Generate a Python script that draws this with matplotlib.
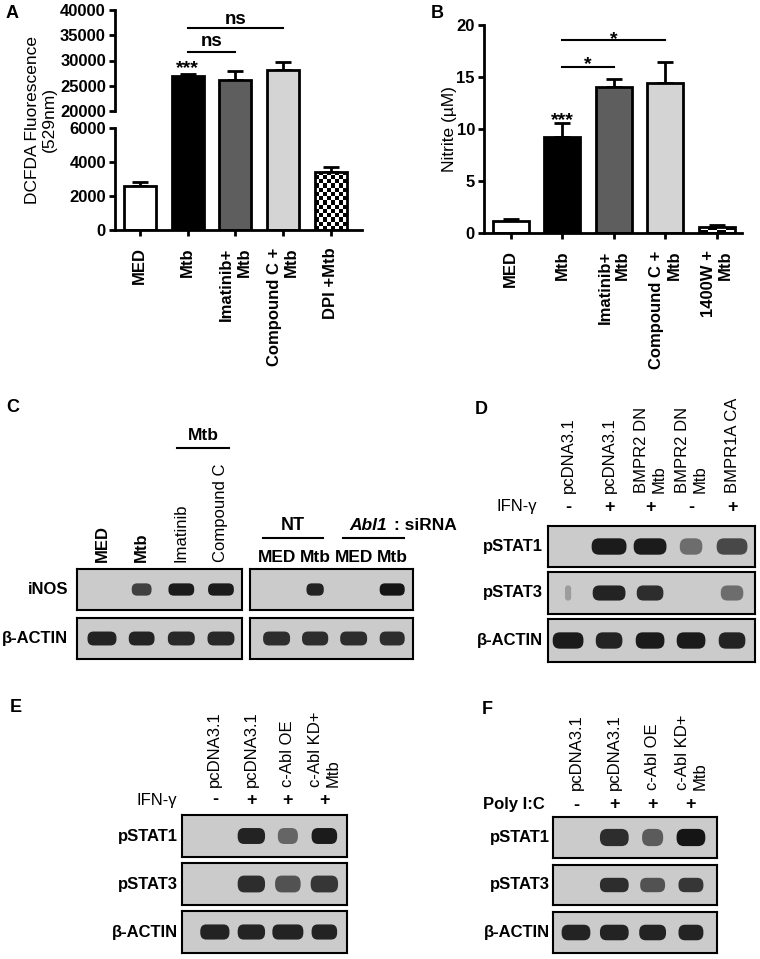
import numpy as np
import matplotlib
matplotlib.use('Agg')
import matplotlib.pyplot as plt
import matplotlib.transforms as mtransforms
from matplotlib.patches import FancyBboxPatch

plt.rcParams['font.family'] = ['Liberation Sans', 'DejaVu Sans']
plt.rcParams['font.weight'] = 'bold'

# ---- data: bar panels ----
a_labels = ['MED', 'Mtb', 'Imatinib+\nMtb', 'Compound C +\nMtb', 'DPI +Mtb']
a_vals = [2600, 27000, 26200, 28200, 3390]
a_err = [220, 330, 1780, 1440, 310]
a_sig = [(1, 2, 31700, 32900, 'ns'), (1, 3, 36400, 37200, 'ns')]
a_star = (1, 27500, '***')

b_labels = ['MED', 'Mtb', 'Imatinib+\nMtb', 'Compound C +\nMtb', '1400W +\nMtb']
b_vals = [1.12, 9.2, 14.0, 14.46, 0.54]
b_err = [0.26, 1.36, 0.8, 1.94, 0.26]
b_sig = [(1, 2, 16.0, 15.8, '*'), (1, 3, 18.6, 18.2, '*')]
b_star = (1, 10.4, '***')

bar_colors = ['white', 'black', '#5e5e5e', '#d4d4d4', 'none']

# ---- data: blots (band darkness, band width in lanes) ----
c_left_lanes = ['MED', 'Mtb', 'Imatinib', 'Compound C']
c_left_inos = [0.0, 0.75, 0.95, 0.95]
c_left_inos_w = [0.0, 0.5, 0.65, 0.65]
c_left_actin = [0.9, 0.9, 0.88, 0.88]
c_left_actin_w = [0.73, 0.65, 0.68, 0.68]
c_right_lanes = ['MED', 'Mtb', 'MED', 'Mtb']
c_right_inos = [0.0, 0.9, 0.0, 0.98]
c_right_inos_w = [0.0, 0.45, 0.0, 0.65]
c_right_actin = [0.85, 0.85, 0.85, 0.85]
c_right_actin_w = [0.7, 0.68, 0.7, 0.65]

d_lanes = ['pcDNA3.1', 'pcDNA3.1', 'BMPR2 DN\nMtb', 'BMPR2 DN\nMtb', 'BMPR1A CA']
d_ifn = ['-', '+', '+', '-', '+']
d_pstat1 = [0.0, 0.95, 0.95, 0.5, 0.7]
d_pstat1_w = [0.0, 0.85, 0.8, 0.55, 0.75]
d_pstat3 = [0.25, 0.9, 0.85, 0.0, 0.5]
d_pstat3_w = [0.15, 0.8, 0.65, 0.0, 0.55]
d_actin = [0.95, 0.9, 0.95, 0.95, 0.9]
d_actin_w = [0.75, 0.65, 0.7, 0.7, 0.65]

e_lanes = ['pcDNA3.1', 'pcDNA3.1', 'c-Abl OE', 'c-Abl KD+\nMtb']
e_ifn = ['-', '+', '+', '+']
e_pstat1 = [0.0, 0.9, 0.55, 0.95]
e_pstat1_w = [0.0, 0.75, 0.55, 0.7]
e_pstat3 = [0.0, 0.85, 0.65, 0.8]
e_pstat3_w = [0.0, 0.75, 0.7, 0.75]
e_actin = [0.9, 0.9, 0.9, 0.9]
e_actin_w = [0.8, 0.75, 0.85, 0.7]

f_lanes = ['pcDNA3.1', 'pcDNA3.1', 'c-Abl OE', 'c-Abl KD+\nMtb']
f_poly = ['-', '+', '+', '+']
f_pstat1 = [0.0, 0.85, 0.6, 0.98]
f_pstat1_w = [0.0, 0.75, 0.55, 0.75]
f_pstat3 = [0.0, 0.85, 0.65, 0.8]
f_pstat3_w = [0.0, 0.75, 0.65, 0.65]
f_actin = [0.9, 0.9, 0.9, 0.9]
f_actin_w = [0.75, 0.75, 0.7, 0.65]

W, H = 760, 959
fig = plt.figure(figsize=(W / 100, H / 100), dpi=100)


def box(x0, y0, x1, y1):
    return [x0 / W, 1 - y1 / H, (x1 - x0) / W, (y1 - y0) / H]


def letter(x, y, s):
    fig.text(x / W, 1 - y / H, s, fontsize=13, ha='left', va='center')


def checker(ax, bar, nx, step):
    x0, w, h = bar.get_x(), bar.get_width(), bar.get_height()
    xs = np.linspace(x0, x0 + w, nx + 1)
    ys = np.append(np.arange(0, h, step), h)
    c = np.add.outer(np.arange(len(ys) - 1), np.arange(nx)) % 2
    ax.pcolormesh(xs, ys, c, cmap='gray', vmin=0, vmax=1, zorder=1.5)


def bar_panel(ax, labels, vals, err, width):
    x = np.arange(len(vals))
    bars = ax.bar(x, vals, width=width, color=bar_colors, edgecolor='black',
                  linewidth=2, zorder=2)
    ax.errorbar(x, vals, yerr=[np.zeros(len(vals)), err], fmt='none',
                ecolor='black', elinewidth=2, capsize=5.5, capthick=2, zorder=1)
    ax.set_xticks(x, labels, rotation=90, multialignment='right', fontsize=11.5)
    ax.tick_params(width=2, length=4.5, labelsize=12)
    ax.tick_params(axis='x', pad=8)
    ax.tick_params(axis='y', pad=2)
    for s in ['top', 'right']:
        ax.spines[s].set_visible(False)
    for s in ['left', 'bottom']:
        ax.spines[s].set_linewidth(2)
    return bars


def sig(ax, items, star):
    for i0, i1, yl, yt, s in items:
        ax.plot([i0, i1], [yl, yl], color='black', lw=1.5)
        ax.text((i0 + i1) / 2, yt, s, ha='center', va='baseline', fontsize=14 if s == '*' else 13.5)
    ax.text(star[0], star[1], star[2], ha='center', va='baseline', fontsize=14)


# ---- A: broken axis ----
def fwd(v):
    v = np.asarray(v, float)
    return np.where(v <= 6000, v / 6000 * 102,
                    np.where(v <= 20000, 102 + (v - 6000) / 14000 * 17,
                             119 + (v - 20000) / 20000 * 101))


def inv(p):
    p = np.asarray(p, float)
    return np.where(p <= 102, p / 102 * 6000,
                    np.where(p <= 119, 6000 + (p - 102) / 17 * 14000,
                             20000 + (p - 119) / 101 * 20000))


axA = fig.add_axes(box(115, 10, 362, 230))
axA.set_yscale('function', functions=(fwd, inv))
barsA = bar_panel(axA, a_labels, a_vals, a_err, 0.67)
checker(axA, barsA[4], 8, 250)
axA.set_xlim(-0.52, 4.65)
axA.set_ylim(0, 40000)
yt = [0, 2000, 4000, 6000, 20000, 25000, 30000, 35000, 40000]
axA.set_yticks(yt, [str(v) for v in yt])
axA.spines['left'].set_visible(False)
tr = mtransforms.blended_transform_factory(axA.transAxes, axA.transData)
axA.plot([0, 0], [0, 6000], transform=tr, color='black', lw=2, clip_on=False)
axA.plot([0, 0], [20000, 40000], transform=tr, color='black', lw=2, clip_on=False)
axA.set_ylabel('DCFDA Fluorescence\n(529nm)', fontsize=12.5, fontweight='normal')
axA.yaxis.set_label_coords(-0.235, 0.5)
sig(axA, a_sig, a_star)
letter(6, 14, 'A')

# ---- B ----
axB = fig.add_axes(box(484, 25, 742, 233))
barsB = bar_panel(axB, b_labels, b_vals, b_err, 0.7)
checker(axB, barsB[4], 4, 0.27)
axB.set_xlim(-0.52, 4.49)
axB.set_ylim(0, 20)
axB.set_yticks([0, 5, 10, 15, 20])
axB.set_ylabel('Nitrite (µM)', fontsize=12.5, fontweight='normal')
axB.yaxis.set_label_coords(-0.105, 0.5)
sig(axB, b_sig, b_star)
letter(431, 14, 'B')


# ---- blots ----
def blot_row(rect, xlim, vals, widths, label=None, label_off=5, band_h=0.38):
    ax = fig.add_axes(box(*rect))
    ax.set_xlim(*xlim)
    ax.set_ylim(0, 1)
    ax.set_facecolor('#cbcbcb')
    ax.set_xticks([])
    ax.set_yticks([])
    for s in ax.spines.values():
        s.set_linewidth(1.5)
    for i, (v, w) in enumerate(zip(vals, widths)):
        if v <= 0:
            continue
        r = min(w, band_h) / 2 * 0.9
        ax.add_patch(FancyBboxPatch((i - w / 2, 0.5 - band_h / 2), w, band_h,
                                    boxstyle=f'round,pad=0,rounding_size={r}',
                                    fc='#111111', ec='none', alpha=v))
    if label:
        ax.annotate(label, xy=(0, 0.5), xycoords='axes fraction',
                    xytext=(-label_off * 0.72, 0), textcoords='offset points',
                    ha='right', va='center', fontsize=12)
    return ax


def headers(ax, labels, off_px, weights=None, size=12):
    for i, lab in enumerate(labels):
        wt = weights[i] if weights else 'normal'
        ax.annotate(lab, xy=(i, 1), xycoords=('data', 'axes fraction'),
                    xytext=(0, off_px * 0.72), textcoords='offset points',
                    rotation=90, ha='center', va='bottom', multialignment='left',
                    fontsize=size, fontweight=wt)


def signs(ax, name, signs_list, off_px, name_x, weight):
    for i, s in enumerate(signs_list):
        ax.annotate(s, xy=(i, 1), xycoords=('data', 'axes fraction'),
                    xytext=(0, off_px * 0.72), textcoords='offset points',
                    ha='center', va='center', fontsize=13)
    ax.annotate(name, xy=(name_x, 1), xycoords=('data', 'axes fraction'),
                xytext=(0, off_px * 0.72), textcoords='offset points',
                ha='right', va='center', fontsize=12, fontweight=weight)


# C
letter(6, 408, 'C')
cl = (-0.63, 3.53)
cl1 = blot_row((77, 569, 242, 610), cl, c_left_inos, c_left_inos_w, 'iNOS', 9, 0.3)
blot_row((77, 618, 242, 659), cl, c_left_actin, c_left_actin_w, 'β-ACTIN', 9, 0.34)
headers(cl1, c_left_lanes, 7, ['bold', 'bold', 'normal', 'normal'])
trc = mtransforms.blended_transform_factory(cl1.transData, cl1.transAxes)
cl1.plot([1.89, 3.2], [3.95, 3.95], transform=trc, color='black', lw=1.5, clip_on=False)
cl1.text(2.55, 4.25, 'Mtb', transform=trc, ha='center', va='center', fontsize=12.5)

cr = (-0.69, 3.54)
cr1 = blot_row((250, 569, 413, 610), cr, c_right_inos, c_right_inos_w, band_h=0.3)
blot_row((250, 618, 413, 659), cr, c_right_actin, c_right_actin_w, band_h=0.34)
trr = mtransforms.blended_transform_factory(cr1.transData, cr1.transAxes)
for i, lab in enumerate(c_right_lanes):
    cr1.text(i, 1.29, lab, transform=trr, ha='center', va='center', fontsize=12.5)
cr1.plot([-0.36, 1.2], [1.76, 1.76], transform=trr, color='black', lw=1.5, clip_on=False)
cr1.plot([1.72, 3.31], [1.76, 1.76], transform=trr, color='black', lw=1.5, clip_on=False)
cr1.text(0.42, 2.07, 'NT', transform=trr, ha='center', va='center', fontsize=13)
cr1.text(2.87, 2.07, 'Abl1', transform=trr, ha='right', va='center', fontsize=12.5, style='italic')
cr1.text(3.05, 2.07, ': siRNA', transform=trr, ha='left', va='center', fontsize=12.5)

# D
letter(475, 410, 'D')
dl = (-0.49, 4.56)
d1 = blot_row((548, 526, 755, 567), dl, d_pstat1, d_pstat1_w, 'pSTAT1', 5, 0.4)
blot_row((548, 572, 755, 614), dl, d_pstat3, d_pstat3_w, 'pSTAT3', 5, 0.36)
blot_row((548, 619, 755, 662), dl, d_actin, d_actin_w, 'β-ACTIN', 5, 0.38)
headers(d1, d_lanes, 33)
signs(d1, 'IFN-γ', d_ifn, 19, -0.76, 'normal')

# E
letter(10, 708, 'E')
el = (-0.9, 3.62)
e1 = blot_row((182, 815, 347, 857), el, e_pstat1, e_pstat1_w, 'pSTAT1', 4, 0.38)
blot_row((182, 863, 347, 905), el, e_pstat3, e_pstat3_w, 'pSTAT3', 4, 0.4)
blot_row((182, 911, 347, 953), el, e_actin, e_actin_w, 'β-ACTIN', 4, 0.36)
headers(e1, e_lanes, 28)
signs(e1, 'IFN-γ', e_ifn, 15, -1.04, 'normal')

# F
letter(482, 710, 'F')
fl = (-0.6, 3.68)
f1 = blot_row((553, 817, 717, 858), fl, f_pstat1, f_pstat1_w, 'pSTAT1', 3, 0.42)
blot_row((553, 865, 717, 905), fl, f_pstat3, f_pstat3_w, 'pSTAT3', 3, 0.36)
blot_row((553, 912, 717, 953), fl, f_actin, f_actin_w, 'β-ACTIN', 3, 0.38)
headers(f1, f_lanes, 27)
signs(f1, 'Poly I:C', f_poly, 12, -0.81, 'bold')

fig.savefig('out.png', dpi=100)
